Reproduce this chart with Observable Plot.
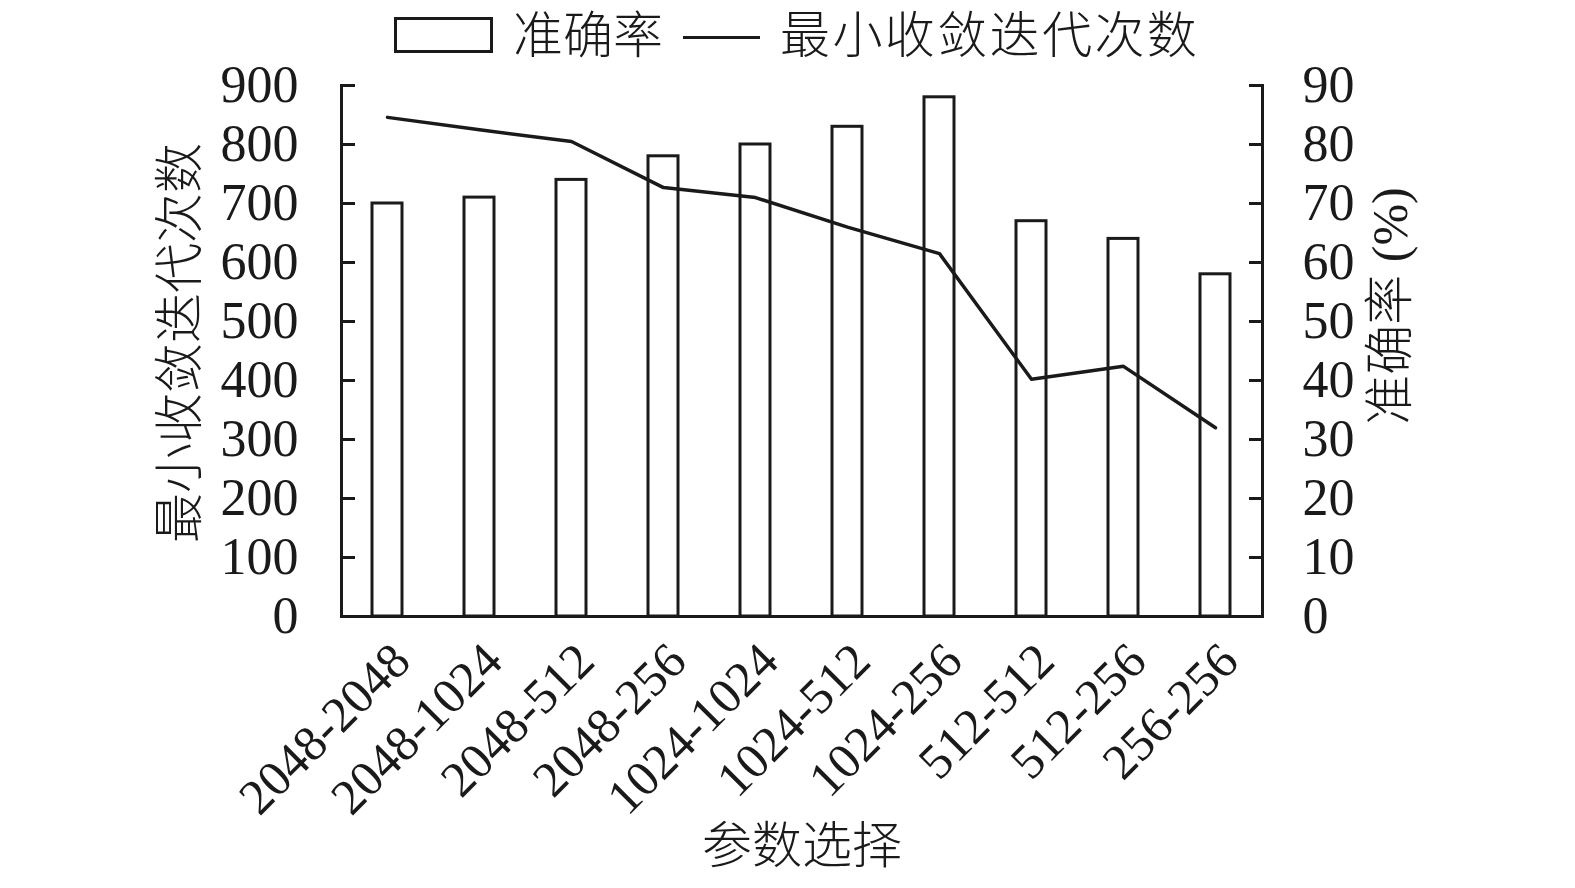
<!DOCTYPE html>
<html>
<head>
<meta charset="utf-8">
<script src="https://cdn.jsdelivr.net/npm/d3@7"></script>
<script src="https://cdn.jsdelivr.net/npm/@observablehq/plot@0.6"></script>
<style>
  body { margin: 0; background: #fff; }
  #legend { position: relative; width: 1575px; height: 60px; font-family: "Liberation Serif", "Noto Sans CJK SC", serif; font-size: 50px; font-weight: 300; color: #1a1a1a; }
  #legend .sw-rect { position: absolute; left: 394px; top: 17px; width: 99px; height: 36px; box-sizing: border-box; border: 3px solid #1a1a1a; background: #fff; }
  #legend .sw-line { position: absolute; left: 683px; top: 36px; width: 77px; height: 3px; background: #1a1a1a; }
  #legend .lab { position: absolute; top: 0; line-height: 72px; white-space: nowrap; }
  #chart svg { overflow: visible; }
</style>
</head>
<body>
<div id="legend">
  <div class="sw-rect"></div>
  <div class="lab" id="lab1" style="left:513px"></div>
  <div class="sw-line"></div>
  <div class="lab" id="lab2" style="left:780px; letter-spacing:2.4px"></div>
</div>
<div id="chart"></div>
<script>
// ---- data ----
const categories = ["2048-2048", "2048-1024", "2048-512", "2048-256", "1024-1024", "1024-512", "1024-256", "512-512", "512-256", "256-256"];
const accuracy = [70, 71, 74, 78, 80, 83, 88, 67, 64, 58];          // 准确率 (%)
const iterations = [846, 825, 805, 727, 710, 660, 615, 402, 424, 320]; // 最小收敛迭代次数
const leftTicks = [0, 100, 200, 300, 400, 500, 600, 700, 800, 900];
const rightTicks = [0, 10, 20, 30, 40, 50, 60, 70, 80, 90];
const seriesNames = ["准确率", "最小收敛迭代次数"];
const xTitle = "参数选择";
const leftTitle = "最小收敛迭代次数";
const rightTitle = "准确率 (%)";

document.getElementById("lab1").textContent = seriesNames[0];
document.getElementById("lab2").textContent = seriesNames[1];

const rows = categories.map((c, i) => ({cat: c, acc: accuracy[i], iter: iterations[i]}));
const accScale = 10; // right axis (0–90 %) mapped onto the left axis (0–900)

const W = 1575, H = 828;
const mL = 341, mR = 313, mT = 25, mB = 272;
const plotW = W - mL - mR;
const ink = "#1a1a1a";
const font = "'Liberation Serif', 'Noto Sans CJK SC', serif";

const chart = Plot.plot({
  width: W,
  height: H,
  marginLeft: mL,
  marginRight: mR,
  marginTop: mT,
  marginBottom: mB,
  style: {fontFamily: font, fontSize: "50px", color: ink, background: "#fff", overflow: "visible"},
  x: {domain: categories, paddingInner: 0.67, paddingOuter: 0.335, label: null},
  y: {domain: [0, 900], label: null},
  marks: [
    // bars (accuracy, right axis)
    Plot.barY(rows, {x: "cat", y: d => d.acc * accScale, fill: "#fff", stroke: ink, strokeWidth: 3}),
    // line (iterations, left axis)
    Plot.line(rows, {x: "cat", y: "iter", stroke: ink, strokeWidth: 3.5}),
    // frame lines
    Plot.frame({anchor: "left", stroke: ink, strokeWidth: 3}),
    Plot.frame({anchor: "right", stroke: ink, strokeWidth: 3}),
    Plot.ruleY([0], {stroke: ink, strokeWidth: 3}),
    // inward ticks
    Plot.tickY(leftTicks, {y: d => d, insetRight: plotW - 14, stroke: ink, strokeWidth: 3}),
    Plot.tickY(rightTicks, {y: d => d * accScale, insetLeft: plotW - 13, stroke: ink, strokeWidth: 3}),
    // axis labels
    Plot.axisY(leftTicks, {anchor: "left", tickSize: 0, tickPadding: 43, fontSize: 52, fill: ink, label: null}),
    Plot.axisY(rightTicks.map(d => d * accScale), {anchor: "right", tickSize: 0, tickPadding: 40, fontSize: 52, fill: ink, tickFormat: d => String(d / accScale), label: null}),
    Plot.axisX({anchor: "bottom", tickSize: 0, tickPadding: 14, dx: 14, dy: 22, tickRotate: -45, fontSize: 50, fill: ink, label: null}),
    // titles
    Plot.text([xTitle], {frameAnchor: "bottom", dy: 230, fontSize: 50, fontWeight: 300, fill: ink, textAnchor: "middle", lineAnchor: "middle"}),
    Plot.text([leftTitle], {frameAnchor: "left", dx: -161, dy: -8, rotate: -90, fontSize: 50, fontWeight: 300, fill: ink, textAnchor: "middle", lineAnchor: "middle"}),
    Plot.text([rightTitle], {frameAnchor: "right", dx: 128, dy: -45, rotate: -90, fontSize: 50, fontWeight: 300, fill: ink, textAnchor: "middle", lineAnchor: "middle"})
  ]
});
document.getElementById("chart").appendChild(chart);
</script>
</body>
</html>
